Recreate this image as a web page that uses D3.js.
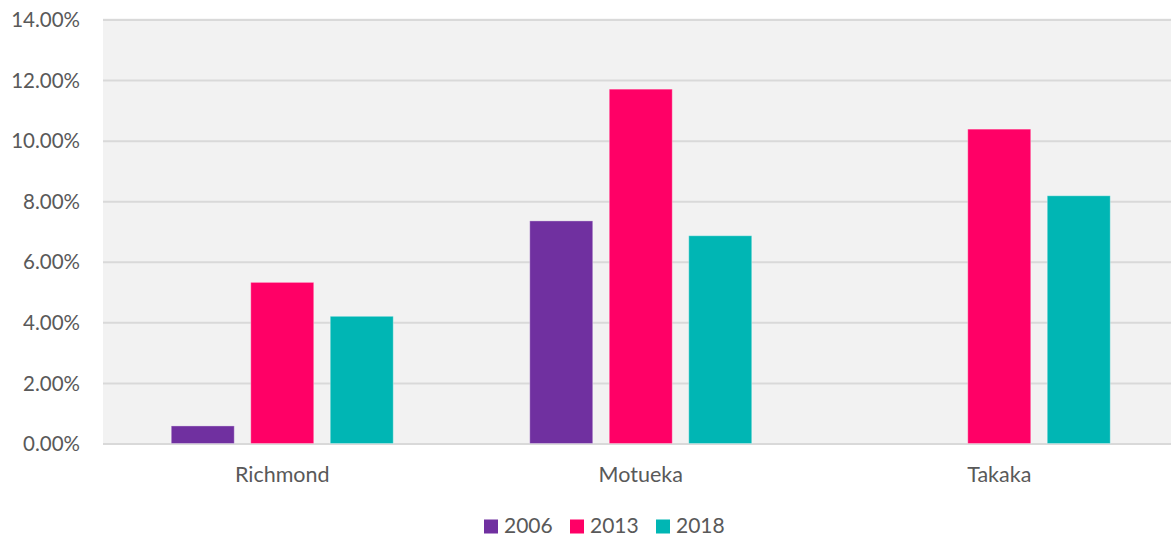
<!DOCTYPE html>
<html>
<head>
<meta charset="utf-8">
<script src="https://cdn.jsdelivr.net/npm/d3@7"></script>
<style>
  html, body { margin: 0; padding: 0; background: #ffffff; }
  svg { display: block; }
  text { font-family: Lato, "Open Sans", sans-serif; fill: #595959; }
</style>
</head>
<body>
<svg id="chart" width="1171" height="537"></svg>
<script>
const categories = ["Richmond", "Motueka", "Takaka"];
const seriesNames = ["2006", "2013", "2018"];
const values2006 = [0.0058, 0.0735, null];
const values2013 = [0.0532, 0.1170, 0.1038];
const values2018 = [0.0420, 0.0686, 0.0818];
const yTicks = [0, 0.02, 0.04, 0.06, 0.08, 0.10, 0.12, 0.14];
const colors = ["#7030a0", "#ff0066", "#00b6b4"];

const seriesValues = [values2006, values2013, values2018];

const svg = d3.select("#chart");
const W = 1171, H = 537;
const plot = { left: 103, right: 1178.5, top: 19.5, bottom: 443.5 };

// plot background
svg.append("rect")
  .attr("x", plot.left).attr("y", plot.top - 1)
  .attr("width", W - plot.left).attr("height", plot.bottom - plot.top + 2)
  .attr("fill", "#f2f2f2");

const x0 = d3.scaleBand().domain(categories).range([plot.left, plot.right]).paddingInner(0).paddingOuter(0);
const groupW = 222;
const x1r = d3.scaleBand().domain(seriesNames).range([(x0.bandwidth() - groupW) / 2, (x0.bandwidth() + groupW) / 2]).paddingInner(0.2075).paddingOuter(0);

const y = d3.scaleLinear().domain([0, 0.14]).range([plot.bottom, plot.top]);

// gridlines + y labels
const yAxis = d3.axisLeft(y).tickValues(yTicks).tickSize(-(W - plot.left)).tickFormat(d3.format(".2%"));
const gAxis = svg.append("g").attr("transform", `translate(${plot.left},0)`).call(yAxis);
gAxis.select(".domain").remove();
gAxis.selectAll(".tick line").attr("stroke", "#d9d9d9").attr("stroke-width", 2);
gAxis.selectAll(".tick text")
  .attr("x", -23).attr("dy", "0.35em")
  .style("font-size", "20.5px").attr("fill", "#595959");

// bars
seriesNames.forEach((s, si) => {
  svg.append("g").selectAll("rect")
    .data(categories.map((c, ci) => ({ c, v: seriesValues[si][ci] })).filter(d => d.v != null))
    .join("rect")
    .attr("x", d => x0(d.c) + x1r(s))
    .attr("y", d => y(d.v))
    .attr("width", x1r.bandwidth())
    .attr("height", d => y(0) - y(d.v))
    .attr("fill", colors[si])
    .attr("stroke", "rgba(255,255,255,0.35)")
    .attr("stroke-width", 1);
});

// category labels
svg.append("g").selectAll("text")
  .data(categories).join("text")
  .attr("x", d => x0(d) + x0.bandwidth() / 2)
  .attr("y", 482)
  .attr("text-anchor", "middle")
  .style("font-size", "21.5px")
  .text(d => d);

// legend
const legendX = [484, 570, 656];
const lg = svg.append("g");
seriesNames.forEach((s, i) => {
  lg.append("rect").attr("x", legendX[i]).attr("y", 519.5).attr("width", 14).attr("height", 14).attr("fill", colors[i]);
  lg.append("text").attr("x", legendX[i] + 20).attr("y", 533).style("font-size", "21px").text(s);
});
</script>
</body>
</html>
